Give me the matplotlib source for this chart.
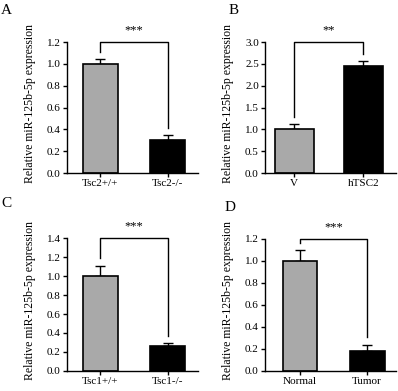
import matplotlib.pyplot as plt
import numpy as np

plt.rcParams['font.family'] = ['Liberation Serif', 'DejaVu Serif']

# data for the four panels
labels_a = ["Tsc2+/+", "Tsc2-/-"]
means_a = [1.00, 0.30]
errs_a = [0.04, 0.05]

labels_b = ["V", "hTSC2"]
means_b = [1.00, 2.46]
errs_b = [0.12, 0.10]

labels_c = ["Tsc1+/+", "Tsc1-/-"]
means_c = [1.00, 0.26]
errs_c = [0.11, 0.03]

labels_d = ["Normal", "Tumor"]
means_d = [1.00, 0.18]
errs_d = [0.10, 0.06]

ylabel = "Relative miR-125b-5p expression"
colors = ["#a9a9a9", "#000000"]


def panel(fig, rect, letter, letter_xy, labels, means, errs, ymax, ystep, sig,
          width=0.52, xlim=(-0.5, 1.45)):
    ax = fig.add_axes(rect)
    x = np.arange(len(labels))
    ax.bar(x, means, width=width, color=colors, edgecolor="black", linewidth=1.2, zorder=2)
    ax.errorbar(x, means, yerr=[np.zeros(len(errs)), errs], fmt="none", ecolor="black",
                elinewidth=1.0, capsize=3.5, capthick=1.0, zorder=1)
    ax.set_xlim(*xlim)
    ax.set_ylim(0, ymax)
    ticks = np.arange(0, ymax + ystep / 2, ystep)
    ax.set_yticks(ticks)
    ax.set_yticklabels(["%.1f" % v for v in ticks], fontsize=8)
    ax.set_xticks(x)
    ax.set_xticklabels(labels, fontsize=8)
    ax.tick_params(axis="both", direction="out", length=3, width=1, pad=1.5)
    for s in ["top", "right"]:
        ax.spines[s].set_visible(False)
    for s in ["left", "bottom"]:
        ax.spines[s].set_linewidth(1.0)
    ax.set_ylabel(ylabel, fontsize=8.5)
    ax.yaxis.set_label_coords(-0.235, 0.53)

    # significance bracket
    gap = 0.055 * ymax
    y0 = means[0] + errs[0] + gap
    y1 = means[1] + errs[1] + gap
    ax.plot([0, 0, 1, 1], [y0, ymax, ymax, y1], color="black", lw=1.0, clip_on=False)
    ax.text(0.5, ymax + 0.045 * ymax, sig, ha="center", va="bottom", fontsize=9)

    fig.text(letter_xy[0], letter_xy[1], letter, fontsize=11, ha="left", va="top")
    return ax


fig = plt.figure(figsize=(3.98, 3.91), dpi=100)

panel(fig, [0.168, 0.5575, 0.329, 0.335], "A", (0.003, 0.99),
      labels_a, means_a, errs_a, 1.2, 0.2, "***")
panel(fig, [0.666, 0.5575, 0.329, 0.335], "B", (0.575, 0.99),
      labels_b, means_b, errs_b, 3.0, 0.5, "**", width=0.56, xlim=(-0.42, 1.47))
panel(fig, [0.168, 0.0512, 0.329, 0.340], "C", (0.003, 0.497),
      labels_c, means_c, errs_c, 1.4, 0.2, "***")
panel(fig, [0.666, 0.0512, 0.329, 0.338], "D", (0.565, 0.485),
      labels_d, means_d, errs_d, 1.2, 0.2, "***", xlim=(-0.52, 1.43))

fig.savefig("out.png", dpi=100)
